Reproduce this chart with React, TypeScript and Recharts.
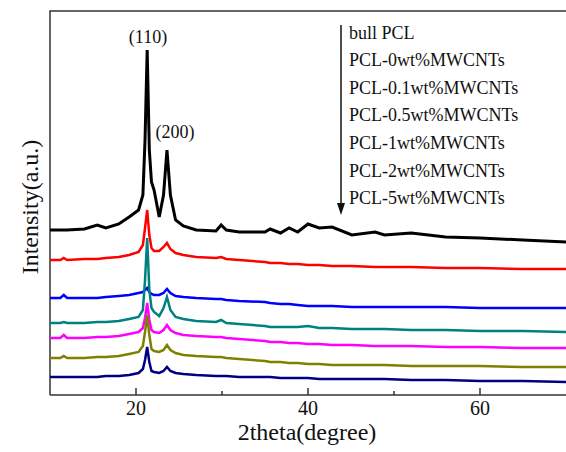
import React from 'react';
import { LineChart, Line, XAxis, YAxis, ReferenceLine } from 'recharts';

const twoTheta = [10, 11.2, 11.6, 12.0, 14, 15.5, 16.5, 18, 19.2, 20.3, 20.8, 21.05, 21.3, 21.55, 21.8, 22.1, 22.7, 23.2, 23.6, 24.0, 24.6, 25.5, 27, 29.3, 29.9, 30.5, 32, 35, 35.6, 36.8, 37.8, 38.8, 40, 41.3, 42.8, 45.1, 47.8, 48.9, 52, 56, 60, 65, 70];

const bullPCL = [165, 165, 165, 165, 166, 170, 167, 171, 178, 185, 200, 255, 345, 245, 213, 205, 178, 200, 245, 200, 175, 169, 165, 164, 170, 165, 163, 163, 166, 162, 167, 163, 171, 167, 168, 160, 163, 160, 162, 158, 157, 155, 153];
const pcl0 = [135, 135, 137, 135, 136, 136, 137, 138, 140, 143, 150, 167, 185, 160, 147, 144, 144, 148, 152, 146, 142, 140, 138, 137, 138, 136, 135, 133, 132, 132, 131, 131, 130, 130, 129, 129, 128, 128, 128, 127, 127, 126, 126];
const pcl01 = [97, 97, 100, 97, 97, 97, 98, 99, 100, 102, 103, 105, 107, 103, 101, 100, 100, 102, 106, 102, 99, 98, 97, 96, 96, 95, 94, 93, 92, 91, 91, 90, 89, 89, 89, 88, 88, 88, 88, 88, 87, 87, 87];
const pcl05 = [72, 72, 73, 72, 72, 73, 73, 74, 76, 78, 85, 115, 157, 105, 87, 83, 79, 87, 98, 85, 78, 76, 74, 73, 75, 72, 71, 69, 68, 68, 68, 68, 69, 67, 67, 66, 66, 66, 65, 65, 64, 64, 63];
const pcl1 = [57, 57, 60, 57, 57, 58, 58, 59, 61, 63, 67, 77, 92, 75, 65, 63, 62, 65, 70, 65, 62, 60, 59, 58, 58, 57, 56, 54, 53, 53, 52, 52, 51, 51, 50, 50, 49, 49, 49, 48, 48, 47, 47];
const pcl2 = [37, 37, 39, 37, 37, 38, 38, 39, 41, 43, 49, 63, 80, 60, 46, 44, 43, 45, 50, 45, 42, 40, 39, 38, 38, 37, 36, 34, 33, 33, 32, 32, 31, 31, 30, 30, 30, 30, 29, 29, 29, 28, 28];
const pcl5 = [18, 18, 18, 18, 18, 18, 19, 19, 20, 22, 26, 35, 48, 33, 24, 23, 22, 24, 28, 24, 22, 21, 20, 19, 19, 19, 18, 18, 18, 17, 17, 17, 17, 16, 16, 16, 16, 16, 15, 15, 14, 14, 13];

const seriesNames = ['bull PCL', 'PCL-0wt%MWCNTs', 'PCL-0.1wt%MWCNTs', 'PCL-0.5wt%MWCNTs', 'PCL-1wt%MWCNTs', 'PCL-2wt%MWCNTs', 'PCL-5wt%MWCNTs'];
const seriesKeys = ['bull', 'p0', 'p01', 'p05', 'p1', 'p2', 'p5'];
const seriesValues = [bullPCL, pcl0, pcl01, pcl05, pcl1, pcl2, pcl5];
const seriesColors = ['#000000', '#ff0000', '#0000ff', '#008080', '#ff00ff', '#808000', '#000080'];

const xTicks = [20, 30, 40, 50, 60];
const majorTicks = [20, 40, 60];

const data = twoTheta.map((x, i) => {
  const row: Record<string, number> = { x };
  seriesKeys.forEach((k, j) => {
    row[k] = seriesValues[j][i];
  });
  return row;
});

const FONT = '"Liberation Serif", "Times New Roman", serif';

function XTick(props: any) {
  const { x, y, payload } = props;
  const major = majorTicks.includes(payload.value);
  return (
    <g>
      <line x1={x} x2={x} y1={y} y2={y - (major ? 7 : 4)} stroke="#333" strokeWidth={1.5} />
      {major && (
        <text x={x} y={y + 13} textAnchor="middle" dominantBaseline="central" fontSize={20} fontFamily={FONT} fill="#111">
          {payload.value}
        </text>
      )}
    </g>
  );
}

export default function App() {
  return (
    <div style={{ position: 'absolute', left: 0, top: 0, width: 566, height: 452, overflow: 'hidden', background: '#fff' }}>
      <LineChart width={568} height={452} data={data} margin={{ top: 11, right: 2, left: 50, bottom: 0 }}>
        <XAxis
          dataKey="x"
          type="number"
          domain={[10, 70]}
          ticks={xTicks}
          height={57}
          tickSize={0}
          tickMargin={0}
          tickLine={false}
          tick={<XTick />}
          axisLine={{ stroke: '#333', strokeWidth: 1.5 }}
          interval={0}
        />
        <YAxis type="number" domain={[0, 384]} hide />
        <ReferenceLine x={10} stroke="#333" strokeWidth={1.5} />
        {seriesKeys.map((k, j) => (
          <Line
            key={k}
            dataKey={k}
            name={seriesNames[j]}
            type="linear"
            stroke={seriesColors[j]}
            strokeWidth={j === 0 ? 3 : 2.5}
            dot={false}
            isAnimationActive={false}
          />
        ))}
      </LineChart>
      <svg width={566} height={452} style={{ position: 'absolute', left: 0, top: 0, pointerEvents: 'none' }}>
        <line x1={49.25} x2={566} y1={11} y2={11} stroke="#333" strokeWidth={1.5} />
        <text x={30} y={207} transform="rotate(-90 30 207)" textAnchor="middle" dominantBaseline="central" fontSize={24} fontFamily={FONT} fill="#111">
          Intensity(a.u.)
        </text>
        <text x={307} y={432} textAnchor="middle" dominantBaseline="central" fontSize={24} fontFamily={FONT} fill="#111">
          2theta(degree)
        </text>
        <text x={148} y={37} textAnchor="middle" dominantBaseline="central" fontSize={18} fontFamily={FONT} fill="#111">
          (110)
        </text>
        <text x={175} y={132} textAnchor="middle" dominantBaseline="central" fontSize={18} fontFamily={FONT} fill="#111">
          (200)
        </text>
        <line x1={341} x2={341} y1={25} y2={206} stroke="#111" strokeWidth={1.5} />
        <polygon points="337,203 345,203 341,215" fill="#111" />
        {seriesNames.map((n, i) => (
          <text key={n} x={349} y={32.5 + i * 27.6} dominantBaseline="central" fontSize={18} fontFamily={FONT} fill="#111">
            {n}
          </text>
        ))}
      </svg>
    </div>
  );
}
